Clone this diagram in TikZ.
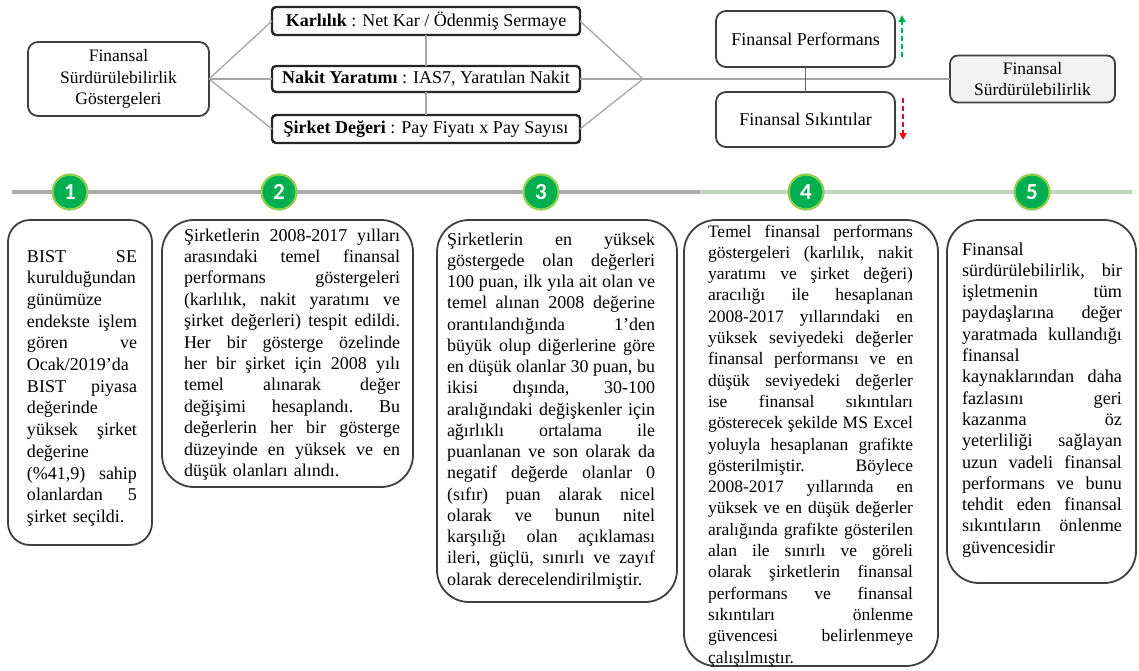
\documentclass[tikz,border=0pt]{standalone}
\usepackage{fontspec}
\setmainfont{Liberation Serif}
\newfontfamily\numfont{Carlito}
\usetikzlibrary{arrows.meta,calc}

\definecolor{edge}{HTML}{3F3F3F}
\definecolor{wirec}{HTML}{A6A6A6}
\definecolor{dotgreen}{HTML}{00B050}
\definecolor{dotring}{HTML}{92D050}
\definecolor{upgreen}{HTML}{00B050}
\definecolor{downred}{HTML}{FF0000}
\definecolor{boxfill}{HTML}{F2F2F2}
\definecolor{railgray}{HTML}{ABABAB}
\definecolor{railgreen}{HTML}{BCD8C3}

% one justified line of a card, as wide as the card's text
\newcommand\jl[1]{\noindent\hbox to \hsize{\frenchspacing
  \spaceskip=0.25em plus 3em minus 0.05em\relax
  \xspaceskip=\spaceskip #1}}

\begin{document}
\begin{tikzpicture}[x=1pt,y=-1pt,
  every node/.style={inner sep=0pt, outer sep=0pt},
  topbox/.style={draw=edge, line width=1.8pt, rounded corners=10pt, fill=white,
    align=center, font=\fontsize{17.5}{21.5}\selectfont},
  metric/.style={draw=black!85, line width=2.4pt, rounded corners=4pt, fill=white,
    minimum width=308pt, minimum height=28pt, font=\fontsize{18}{21}\selectfont},
  card/.style={draw=edge, line width=1.8pt, rounded corners=32pt},
  cardtext/.style={anchor=base west, align=left, text width=#1},
  wire/.style={draw=wirec, line width=1.3pt},
  numdot/.style={circle, fill=dotgreen, draw=dotring, line width=2.2pt,
    minimum size=35pt, text=white, font=\numfont\bfseries\fontsize{23}{23}\selectfont},
  trendup/.style={draw=upgreen, line width=2.4pt, dash pattern=on 5pt off 3pt,
    -{Triangle[length=7pt,width=7pt,fill=upgreen]}},
  trenddown/.style={draw=downred, line width=2.4pt, dash pattern=on 5pt off 3pt,
    -{Triangle[length=7pt,width=7pt,fill=downred]}},
]
\useasboundingbox (0,0) rectangle (1139,670);

% ---------- indicator block ----------
\node[topbox, minimum width=181pt, minimum height=74pt] (ind) at (118.5,79)
  {Finansal\\Sürdürülebilirlik\\Göstergeleri};
\node[metric] (kar) at (426,21) {\textbf{Karlılık} : Net Kar / Ödenmiş Sermaye};
\node[metric, minimum height=26pt] (nak) at (426,79) {\textbf{Nakit Yaratımı} : IAS7, Yaratılan Nakit};
\node[metric] (sir) at (426,129) {\textbf{Şirket Değeri} : Pay Fiyatı x Pay Sayısı};

\node[topbox, minimum width=179pt, minimum height=56pt, font=\fontsize{18}{21}\selectfont]
  (fp) at (805.5,39) {Finansal Performans};
\node[topbox, minimum width=179pt, minimum height=55pt, font=\fontsize{18}{21}\selectfont]
  (fs) at (805.5,119.5) {Finansal Sıkıntılar};
\node[topbox, fill=boxfill, rounded corners=8pt, minimum width=165pt, minimum height=47pt,
  font=\fontsize{17.5}{21}\selectfont] (fsd) at (1032.5,79) {Finansal\\Sürdürülebilirlik};

\coordinate (jn) at (643,79);
\draw[wire] (ind.east) -- (kar.west);
\draw[wire] (ind.east) -- (nak.west);
\draw[wire] (ind.east) -- (sir.west);
\draw[wire] (kar.south) -- (nak.north);
\draw[wire] (nak.south) -- (sir.north);
\draw[wire] (kar.east) -- (jn);
\draw[wire] (nak.east) -- (jn);
\draw[wire] (sir.east) -- (jn);
\draw[wire] (jn) -- (fsd.west);
\draw[wire, draw=black!60] (fp.south) -- (fs.north);

\coordinate (upA) at (902,57);
\coordinate (upB) at (902,15);
\coordinate (dnA) at (903,98);
\coordinate (dnB) at (903,140);
\draw[trendup] (upA) -- (upB);
\draw[trenddown] (dnA) -- (dnB);

% ---------- step rail ----------
\coordinate (railL) at (12,192);
\coordinate (railM) at (700,192);
\coordinate (railR) at (1132,192);
\draw[draw=railgray, line width=3.2pt] (railL) -- (railM);
\draw[draw=railgreen, line width=3.2pt] (railM) -- (railR);

\node[numdot] (n1) at (70,192) {1};
\node[numdot] (n2) at (279,192) {2};
\node[numdot] (n3) at (541,192) {3};
\node[numdot] (n4) at (806,192) {4};
\node[numdot] (n5) at (1032,192) {5};

% ---------- cards ----------
\node[card, rounded corners=22pt, minimum width=144pt, minimum height=325pt] (c1) at (80,382.5) {};
\node[card, minimum width=251pt, minimum height=267pt] (c2) at (287.5,353.5) {};
\node[card, minimum width=240pt, minimum height=382pt] (c3) at (557,411) {};
\node[card, minimum width=254pt, minimum height=446pt] (c4) at (811,443) {};
\node[card, minimum width=189pt, minimum height=363pt] (c5) at (1041.5,401.5) {};

\node[cardtext=110pt, font=\fontsize{18}{21.7}\selectfont] (t1) at (27,262) {%
\jl{BIST SE}\\
kurulduğundan\\
günümüze\\
\jl{endekste işlem}\\
\jl{gören ve}\\
Ocak/2019’da\\
\jl{BIST piyasa}\\
değerinde\\
\jl{yüksek şirket}\\
değerine\\
\jl{(\%41,9) sahip}\\
\jl{olanlardan 5}\\
şirket seçildi.};

\node[cardtext=216pt, font=\fontsize{18}{21.4}\selectfont] (t2) at (184,241) {%
\jl{Şirketlerin 2008-2017 yılları}\\
\jl{arasındaki temel finansal}\\
\jl{performans göstergeleri}\\
\jl{(karlılık, nakit yaratımı ve}\\
\jl{şirket değerleri) tespit edildi.}\\
\jl{Her bir gösterge özelinde}\\
\jl{her bir şirket için 2008 yılı}\\
\jl{temel alınarak değer}\\
\jl{değişimi hesaplandı. Bu}\\
\jl{değerlerin her bir gösterge}\\
\jl{düzeyinde en yüksek ve en}\\
düşük olanları alındı.};

\node[cardtext=208pt, font=\fontsize{18}{21.25}\selectfont] (t3) at (447,245) {%
\jl{Şirketlerin en yüksek}\\
\jl{göstergede olan değerleri}\\
\jl{100 puan, ilk yıla ait olan ve}\\
\jl{temel alınan 2008 değerine}\\
\jl{orantılandığında 1’den}\\
\jl{büyük olup diğerlerine göre}\\
\jl{en düşük olanlar 30 puan, bu}\\
\jl{ikisi dışında, 30-100}\\
\jl{aralığındaki değişkenler için}\\
\jl{ağırlıklı ortalama ile}\\
\jl{puanlanan ve son olarak da}\\
\jl{negatif değerde olanlar 0}\\
\jl{(sıfır) puan alarak nicel}\\
\jl{olarak ve bunun nitel}\\
\jl{karşılığı olan açıklaması}\\
\jl{ileri, güçlü, sınırlı ve zayıf}\\
olarak derecelendirilmiştir.};

\node[cardtext=205pt, font=\fontsize{17.5}{21.3}\selectfont] (t4) at (708,237) {%
\jl{Temel finansal performans}\\
\jl{göstergeleri (karlılık, nakit}\\
\jl{yaratımı ve şirket değeri)}\\
\jl{aracılığı ile hesaplanan}\\
\jl{2008-2017 yıllarındaki en}\\
\jl{yüksek seviyedeki değerler}\\
\jl{finansal performansı ve en}\\
\jl{düşük seviyedeki değerler}\\
\jl{ise finansal sıkıntıları}\\
\jl{gösterecek şekilde MS Excel}\\
\jl{yoluyla hesaplanan grafikte}\\
\jl{gösterilmiştir. Böylece}\\
\jl{2008-2017 yıllarında en}\\
\jl{yüksek ve en düşük değerler}\\
\jl{aralığında grafikte gösterilen}\\
\jl{alan ile sınırlı ve göreli}\\
\jl{olarak şirketlerin finansal}\\
\jl{performans ve finansal}\\
\jl{sıkıntıları önlenme}\\
\jl{güvencesi belirlenmeye}\\
çalışılmıştır.};

\node[cardtext=160pt, font=\fontsize{18.2}{21.3}\selectfont] (t5) at (962,255) {%
Finansal\\
\jl{sürdürülebilirlik, bir}\\
\jl{işletmenin tüm}\\
\jl{paydaşlarına değer}\\
\jl{yaratmada kullandığı}\\
finansal\\
\jl{kaynaklarından daha}\\
\jl{fazlasını geri}\\
\jl{kazanma öz}\\
\jl{yeterliliği sağlayan}\\
\jl{uzun vadeli finansal}\\
\jl{performans ve bunu}\\
\jl{tehdit eden finansal}\\
\jl{sıkıntıların önlenme}\\
güvencesidir};
\end{tikzpicture}
\end{document}
